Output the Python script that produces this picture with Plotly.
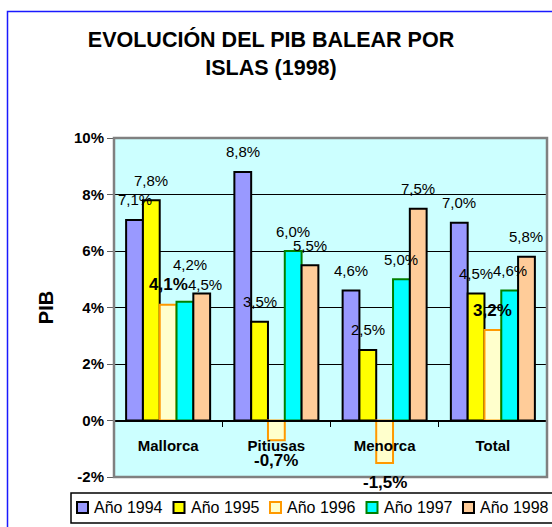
import plotly.graph_objects as go

# Datos (crecimiento del PIB, %)
categorias = ["Mallorca", "Pitiusas", "Menorca", "Total"]
series = ["Año 1994", "Año 1995", "Año 1996", "Año 1997", "Año 1998"]
pib_1994 = [7.1, 8.8, 4.6, 7.0]
pib_1995 = [7.8, 3.5, 2.5, 4.5]
pib_1996 = [4.1, -0.7, -1.5, 3.2]
pib_1997 = [4.2, 6.0, 5.0, 4.6]
pib_1998 = [4.5, 5.5, 7.5, 5.8]
ticks_y = [-2, 0, 2, 4, 6, 8, 10]

valores = [pib_1994, pib_1995, pib_1996, pib_1997, pib_1998]
rellenos = ["#9999FF", "#FFFF00", "#FFFFCC", "#00FFFF", "#FFCC99"]
bordes = ["#000000", "#000000", "#FF9900", "#008000", "#000000"]

FUENTE = "Liberation Sans, Arial, sans-serif"
W, H = 552, 527
L, R, T, B = 114, 5, 138, 50
BARGAP = 0.224


def fx(x):
    """Pixel horizontal -> coordenada paper."""
    return (x - L) / (W - L - R)


def fy(y):
    """Pixel vertical -> coordenada paper."""
    return (H - B - y) / (H - T - B)


def fmt(v):
    return ("%.1f" % v).replace(".", ",") + "%"


fig = go.Figure()
for nombre, vals, relleno, borde in zip(series, valores, rellenos, bordes):
    fig.add_trace(go.Bar(x=categorias, y=vals, name=nombre, showlegend=False,
                         marker=dict(color=relleno, line=dict(color=borde, width=2))))

# etiquetas de datos
ancho_barra = (W - L - R) / len(categorias) * (1 - BARGAP) / len(series)
ajustes = {("Mallorca", 3): (5, 17), ("Mallorca", 4): (3, -11)}
anotaciones = []
for i, vals in enumerate(valores):
    negrita = (i == 2)
    for cat, v in zip(categorias, vals):
        dx, dy = ajustes.get((cat, i), (0, 0))
        texto = "<b>%s</b>" % fmt(v) if negrita else fmt(v)
        anotaciones.append(dict(
            x=cat, y=v, xref="x", yref="y", text=texto, showarrow=False,
            xshift=(i - 2) * ancho_barra + dx,
            yshift=(20 if v >= 0 else -20) + dy,
            font=dict(family=FUENTE, size=17 if negrita else 15, color="black")))

# leyenda manual
formas = [
    dict(type="rect", xref="paper", yref="paper", x0=fx(7.5), x1=fx(800), y0=fy(800), y1=fy(11.5),
         line=dict(color="#1a1aff", width=1.5), layer="below"),
    dict(type="rect", xref="paper", yref="paper", x0=0, x1=1, y0=0, y1=1,
         line=dict(color="#808080", width=2.5), layer="above"),
    dict(type="rect", xref="paper", yref="paper", x0=fx(71), x1=fx(800), y0=fy(523), y1=fy(493),
         line=dict(color="black", width=1.5)),
]
for i, nombre in enumerate(series):
    x0 = 77 + i * 96.5
    formas.append(dict(type="rect", xref="paper", yref="paper", x0=fx(x0), x1=fx(x0 + 11),
                       y0=fy(513), y1=fy(502), fillcolor=rellenos[i],
                       line=dict(color=bordes[i], width=2)))
    anotaciones.append(dict(x=fx(x0 + 15), y=fy(507.5), xref="paper", yref="paper", text=nombre,
                            showarrow=False, xanchor="left", yanchor="middle",
                            font=dict(family=FUENTE, size=16, color="black")))

fig.update_layout(
    width=W, height=H,
    margin=dict(l=L, r=R, t=T, b=B),
    paper_bgcolor="white", plot_bgcolor="#CCFFFF",
    barmode="group", bargap=BARGAP, bargroupgap=0,
    title=dict(text="<b>EVOLUCIÓN DEL PIB BALEAR POR<br>ISLAS (1998)</b>", x=271 / W, xanchor="center",
               y=1 - 47 / H, yanchor="top", yref="container",
               font=dict(family=FUENTE, size=21.5, color="black")),
    xaxis=dict(anchor="free", position=2 / 12, showline=True, linecolor="black", linewidth=2,
               ticks="outside", tickson="boundaries", ticklen=5, tickcolor="black",
               ticklabelstandoff=11,
               showgrid=False, tickfont=dict(family=FUENTE, size=15, color="black"),
               tickprefix="<b>", ticksuffix="</b>"),
    yaxis=dict(range=[-2, 10], tickvals=ticks_y, ticktext=["<b>%d%%</b>" % t for t in ticks_y],
               showgrid=True, gridcolor="black", gridwidth=1, zeroline=False, showline=False,
               ticks="outside", ticklen=6, tickcolor="#606060",
               tickfont=dict(family=FUENTE, size=15, color="black"),
               title=dict(text="<b>PIB</b>", standoff=14, font=dict(family=FUENTE, size=20, color="black"))),
    annotations=anotaciones,
    shapes=formas,
)

# sin margen del body para que la figura ocupe la ventana exacta
fig.write_html("out.html", config={"displayModeBar": False},
               post_script="document.body.style.margin='0';")
